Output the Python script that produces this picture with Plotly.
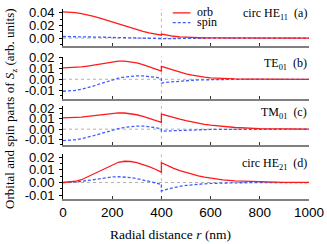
import plotly.graph_objects as go
from plotly.subplots import make_subplots

# Radial distance (nm); 400 appears twice (discontinuity at the core boundary)
r = [0, 25, 50, 75, 100, 125, 150, 175, 200, 225, 250, 275, 300, 325, 350, 375, 400,
     400, 425, 450, 475, 500, 525, 550, 575, 600, 650, 700, 800, 900, 1000]

# (a) circ HE11
a_orb = [0.0415, 0.0413, 0.0405, 0.0390, 0.0370, 0.0345, 0.0317, 0.0286, 0.0254, 0.0222,
         0.0190, 0.0160, 0.0131, 0.0105, 0.0082, 0.0062, 0.0046,
         0.0064, 0.0043, 0.0029, 0.0020, 0.0013, 0.0009, 0.0006, 0.0004, 0.0003, 0.00015,
         0.0001, 0.0, 0.0, 0.0]
a_spin = [0.0025, 0.0025, 0.0024, 0.0023, 0.0021, 0.0019, 0.0016, 0.0013, 0.0010, 0.0007,
          0.0004, 0.0002, 0.0000, -0.0002, -0.0004, -0.0005, -0.0006,
          -0.0015, -0.0010, -0.0007, -0.0005, -0.0003, -0.0002, -0.0001, -0.0001, 0.0, 0.0,
          0.0, 0.0, 0.0, 0.0]

# (b) TE01
b_orb = [0.0105, 0.0106, 0.0109, 0.0114, 0.0122, 0.0132, 0.0143, 0.0154, 0.0162, 0.0167,
         0.0168, 0.0163, 0.0152, 0.0136, 0.0117, 0.0096, 0.0075,
         0.0120, 0.0101, 0.0083, 0.0066, 0.0051, 0.0038, 0.0027, 0.0019, 0.0013, 0.0006,
         0.0003, 0.0001, 0.0, 0.0]
b_spin = [-0.0110, -0.0108, -0.0102, -0.0092, -0.0078, -0.0061, -0.0042, -0.0023, -0.0005,
          0.0010, 0.0021, 0.0028, 0.0031, 0.0031, 0.0027, 0.0019, 0.0008,
          -0.0035, -0.0027, -0.0021, -0.0016, -0.0012, -0.0009, -0.0006, -0.0004, -0.0003,
          -0.0001, 0.0, 0.0, 0.0, 0.0]

# (c) TM01
c_orb = [0.0108, 0.0109, 0.0111, 0.0116, 0.0123, 0.0131, 0.0140, 0.0148, 0.0154, 0.0157,
         0.0156, 0.0150, 0.0139, 0.0124, 0.0106, 0.0086, 0.0065,
         0.0145, 0.0127, 0.0111, 0.0096, 0.0082, 0.0069, 0.0057, 0.0047, 0.0038, 0.0025,
         0.0016, 0.0006, 0.0002, 0.0001]
c_spin = [-0.0110, -0.0108, -0.0102, -0.0092, -0.0079, -0.0063, -0.0045, -0.0027, -0.0010,
          0.0005, 0.0017, 0.0026, 0.0030, 0.0030, 0.0025, 0.0015, 0.0002,
          -0.0020, -0.0017, -0.0014, -0.0011, -0.0009, -0.0007, -0.0005, -0.0004, -0.0003,
          -0.0002, -0.0001, 0.0, 0.0, 0.0]

# (d) circ HE21
d_orb = [0.0000, 0.0003, 0.0010, 0.0022, 0.0045, 0.0070, 0.0094, 0.0118, 0.0142, 0.0160,
         0.0168, 0.0166, 0.0157, 0.0143, 0.0126, 0.0105, 0.0082,
         0.0156, 0.0133, 0.0112, 0.0094, 0.0078, 0.0064, 0.0052, 0.0042, 0.0033, 0.0021,
         0.0013, 0.0005, 0.0002, 0.0001]
d_spin = [0.0000, 0.0001, 0.0004, 0.0009, 0.0016, 0.0024, 0.0032, 0.0039, 0.0044, 0.0046,
          0.0044, 0.0039, 0.0031, 0.0021, 0.0010, -0.0002, -0.0015,
          -0.0067, -0.0052, -0.0040, -0.0030, -0.0023, -0.0017, -0.0013, -0.0010, -0.0007,
          -0.0004, -0.0002, -0.0001, 0.0, 0.0]

panel_labels = ["circ HE<sub>11</sub>\u00a0\u00a0(a)", "TE<sub>01</sub>\u00a0\u00a0(b)",
                "TM<sub>01</sub>\u00a0\u00a0(c)", "circ HE<sub>21</sub>\u00a0\u00a0(d)"]
x_ticks = [0, 200, 400, 600, 800, 1000]
ya_ticks = [0.0, 0.02, 0.04]
ya_text = ["0.00", "0.02", "0.04"]
yb_ticks = [-0.01, 0.0, 0.01, 0.02]
yb_text = ["-0.01", "0.00", "0.01", "0.02"]

orb_series = [a_orb, b_orb, c_orb, d_orb]
spin_series = [a_spin, b_spin, c_spin, d_spin]

RED = "#ff1a1a"
BLUE = "#3d5cff"
DASH = "3px,2px"
SERIF = "Liberation Serif, Times New Roman, serif"
SANS = "Liberation Sans, Arial, sans-serif"

fig = make_subplots(rows=4, cols=1, shared_xaxes=False)

for i in range(4):
    row = i + 1
    fig.add_trace(go.Scatter(x=r, y=spin_series[i], mode="lines", name="spin",
                             line=dict(color=BLUE, width=1.3, dash=DASH),
                             showlegend=False), row=row, col=1)
    fig.add_trace(go.Scatter(x=r, y=orb_series[i], mode="lines", name="orb",
                             line=dict(color=RED, width=1.3),
                             showlegend=False), row=row, col=1)

# layout geometry: plot area in pixels 63..314 x, 3..199 y
W, H = 327, 244
ML, MR, MT, MB = 63, 13, 3, 45
ph = H - MT - MB

def py(p):
    return (H - MB - p) / ph

def px(p):
    return (p - ML) / (W - ML - MR)

domains = [(41, 3), (96, 52), (143, 103), (199, 153)]
ranges = [(-0.0123, 0.0462), (-0.0183, 0.0210), (-0.0150, 0.0224), (-0.0130, 0.0222)]

for i in range(4):
    sfx = "" if i == 0 else str(i + 1)
    bot, top = domains[i]
    is_a = (i == 0)
    fig.layout["yaxis" + sfx].update(
        domain=[max(0, py(bot)), min(1, py(top))],
        range=list(ranges[i]),
        tickvals=ya_ticks if is_a else yb_ticks,
        ticktext=ya_text if is_a else yb_text,
        ticks="outside", ticklen=3, tickwidth=1, tickcolor="black",
        minor=dict(dtick=0.01 if is_a else 0.005, ticks="outside", ticklen=2,
                   tickcolor="black", tickwidth=1),
        showline=True, linecolor="black", linewidth=1,
        showgrid=False, zeroline=False,
        tickfont=dict(family=SANS, size=13, color="black"),
        ticklabelstandoff=2,
    )
    fig.layout["xaxis" + sfx].update(
        range=[0, 1000],
        tickvals=x_ticks,
        showticklabels=(i == 3),
        ticks="inside", ticklen=3, tickwidth=1, tickcolor="#333",
        showline=True, linecolor="#808080", linewidth=2,
        showgrid=False, zeroline=False,
        tickfont=dict(family=SANS, size=13.5, color="black"),
        ticklabeloverflow="allow",
    )
    xref = "x" + sfx
    yref = "y" + sfx
    # zero line and core boundary
    fig.add_shape(type="line", xref=xref + " domain", yref=yref, x0=0, x1=1, y0=0, y1=0,
                  line=dict(color="#b0b0b0", width=1, dash="dot"), layer="below")
    fig.add_shape(type="line", xref=xref, yref=yref + " domain", x0=400, x1=400, y0=0, y1=1,
                  line=dict(color="#b8b8b8", width=1, dash="dot"), layer="below")
    label_y = [0.87, 0.82, 0.825, 0.78][i]
    fig.add_annotation(text=panel_labels[i], xref=xref + " domain", yref=yref + " domain",
                       x=1.0, y=label_y, xanchor="right", yanchor="middle", showarrow=False,
                       font=dict(family=SERIF, size=12, color="black"))

# legend (drawn in panel a)
fig.add_shape(type="line", xref="paper", yref="paper", x0=px(175), x1=px(193),
              y0=py(7), y1=py(7), line=dict(color=RED, width=1.3))
fig.add_shape(type="line", xref="paper", yref="paper", x0=px(175), x1=px(193),
              y0=py(17), y1=py(17), line=dict(color=BLUE, width=1.3, dash=DASH))
fig.add_annotation(text="orb", xref="paper", yref="paper", x=px(198), y=py(6.5),
                   xanchor="left", yanchor="middle", showarrow=False,
                   font=dict(family=SERIF, size=12, color="black"))
fig.add_annotation(text="spin", xref="paper", yref="paper", x=px(198), y=py(16.5),
                   xanchor="left", yanchor="middle", showarrow=False,
                   font=dict(family=SERIF, size=12, color="black"))

# axis titles
fig.add_annotation(text="Orbital and spin parts of <i>S</i><sub>z</sub> (arb. units)",
                   xref="paper", yref="paper", x=px(10), y=py(106), textangle=-90,
                   xanchor="center", yanchor="middle", showarrow=False,
                   font=dict(family=SERIF, size=13, color="black"))
fig.add_annotation(text="Radial distance <i>r</i> (nm)",
                   xref="paper", yref="paper", x=px(173), y=py(236),
                   xanchor="center", yanchor="middle", showarrow=False,
                   font=dict(family=SERIF, size=13.5, color="black"))

fig.update_layout(width=W, height=H, margin=dict(l=ML, r=MR, t=MT, b=MB),
                  paper_bgcolor="white", plot_bgcolor="white", showlegend=False)

fig.write_html("out.html", config={"displayModeBar": False},
               post_script="document.body.style.margin='0';document.body.style.overflow='hidden';")
